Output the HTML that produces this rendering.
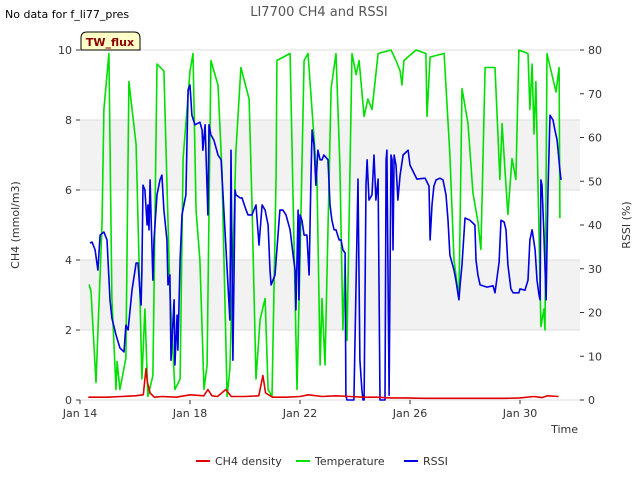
<!DOCTYPE html>
<html><head><meta charset="utf-8">
<style>
body{margin:0;background:#fff;font-family:"DejaVu Sans","Liberation Sans",sans-serif;}
svg text{font-family:"DejaVu Sans","Liberation Sans",sans-serif;}
</style></head>
<body>
<svg id="chart" width="640" height="480" viewBox="0 0 640 480">
<rect width="640" height="480" fill="#fff"/>
<g id="bands"></g><g id="axes"></g><g id="series"></g>
<text x="5" y="18" font-size="11" fill="#000">No data for f_li77_pres</text>
<text x="319" y="16" font-size="13" fill="#555" text-anchor="middle">LI7700 CH4 and RSSI</text>
<g>
<path d="M81,50 L81,38 Q81,32 87,32 L134,32 Q140,32 140,38 L140,50 Z" fill="#ffffc8" stroke="#000" stroke-width="1"/>
<text x="110" y="46" font-size="11" font-weight="bold" fill="#8b0000" text-anchor="middle">TW_flux</text>
</g>
<text x="19" y="225" font-size="11" fill="#333" text-anchor="middle" transform="rotate(-90 19 225)">CH4 (mmol/m3)</text>
<text x="630" y="225" font-size="11" fill="#333" text-anchor="middle" transform="rotate(-90 630 225)">RSSI (%)</text>
<text x="578" y="433" font-size="11" fill="#333" text-anchor="end">Time</text>
<g font-size="11" fill="#333">
<g><line x1="196" y1="461" x2="210" y2="461" stroke="#e00000" stroke-width="2"/><text x="215" y="465">CH4 density</text></g>
<g><line x1="296" y1="461" x2="310" y2="461" stroke="#00e000" stroke-width="2"/><text x="315" y="465">Temperature</text></g>
<g><line x1="404" y1="461" x2="418" y2="461" stroke="#0000e0" stroke-width="2"/><text x="423" y="465">RSSI</text></g>
</g>
</svg>
<script>
const xTickDays=[0,4,8,12,16];
const xTickLabels=["Jan 14","Jan 18","Jan 22","Jan 26","Jan 30"];
const yLeftTicks=[0,2,4,6,8,10];
const yRightTicks=[0,10,20,30,40,50,60,70,80];
const tempDays=[0.33,0.40,0.58,0.80,0.87,1.05,1.16,1.31,1.35,1.45,1.67,1.78,2.04,2.18,2.25,2.36,2.47,2.65,2.80,3.05,3.27,3.45,3.64,3.75,4.00,4.11,4.22,4.36,4.51,4.62,4.76,5.02,5.16,5.35,5.45,5.67,5.85,6.15,6.25,6.40,6.55,6.73,6.84,6.98,7.13,7.16,7.64,7.89,8.00,8.15,8.29,8.62,8.73,8.80,8.91,9.13,9.31,9.45,9.56,9.64,9.71,9.89,10.04,10.15,10.33,10.47,10.62,10.73,10.84,11.31,11.49,11.64,11.71,11.78,12.22,12.58,12.62,12.73,13.24,13.45,13.60,13.78,13.82,13.89,14.11,14.29,14.47,14.58,14.73,15.09,15.27,15.35,15.45,15.56,15.71,15.85,15.96,16.29,16.36,16.44,16.51,16.58,16.76,16.87,16.91,16.98,17.31,17.42,17.45];
const tempVals=[3.3,3.1,0.5,5.0,8.3,9.9,2.9,0.3,1.1,0.3,1.2,9.1,7.3,3.0,0.6,2.6,0.1,0.7,9.6,9.4,3.1,0.3,0.6,6.9,9.4,9.9,5.4,4.0,0.3,1.0,9.7,9.0,6.6,0.1,0.9,7.1,9.5,8.6,5.7,0.6,2.3,2.9,0.3,0.1,6.4,9.7,9.9,0.3,4.0,9.7,9.9,6.3,1.0,2.9,1.0,8.9,9.9,6.7,2.0,3.9,1.7,9.9,9.3,9.7,8.1,8.6,8.3,9.1,9.9,10.0,9.7,9.4,9.0,9.7,10.0,9.9,8.1,9.8,9.9,7.0,4.0,2.9,5.1,8.9,7.9,5.9,5.1,4.3,9.5,9.5,6.3,7.9,6.6,5.3,6.9,6.3,10.0,9.9,8.3,9.6,7.6,9.1,2.1,2.6,2.0,9.9,8.8,9.5,5.2];
const rssiDays=[0.36,0.44,0.55,0.65,0.73,0.87,0.98,1.09,1.16,1.31,1.45,1.60,1.67,1.75,1.89,2.04,2.11,2.18,2.22,2.25,2.29,2.36,2.44,2.47,2.51,2.55,2.58,2.65,2.69,2.80,2.91,2.98,3.05,3.16,3.20,3.27,3.31,3.42,3.45,3.53,3.56,3.64,3.71,3.85,3.93,4.00,4.07,4.18,4.36,4.44,4.47,4.55,4.65,4.69,4.76,4.87,5.02,5.13,5.45,5.49,5.56,5.64,5.67,5.82,5.89,6.04,6.11,6.25,6.40,6.51,6.62,6.73,6.84,6.91,6.95,7.09,7.27,7.38,7.49,7.64,7.75,7.82,7.85,7.89,7.93,7.96,8.00,8.07,8.15,8.25,8.33,8.40,8.44,8.51,8.58,8.65,8.73,8.80,8.87,9.02,9.09,9.16,9.24,9.31,9.42,9.49,9.56,9.64,9.67,9.71,9.85,9.96,10.11,10.18,10.25,10.29,10.33,10.40,10.44,10.51,10.62,10.69,10.76,10.84,10.91,10.98,11.09,11.13,11.16,11.24,11.31,11.35,11.38,11.42,11.49,11.56,11.64,11.75,11.93,12.00,12.25,12.55,12.69,12.73,12.80,12.87,12.95,13.09,13.20,13.31,13.38,13.45,13.60,13.67,13.78,13.82,13.89,14.00,14.18,14.36,14.40,14.47,14.55,14.80,15.02,15.09,15.24,15.31,15.42,15.49,15.56,15.67,15.75,15.96,16.00,16.18,16.29,16.36,16.44,16.55,16.62,16.69,16.73,16.76,16.80,16.87,16.95,17.02,17.09,17.20,17.27,17.35,17.45,17.49];
const rssiVals=[35.9,36.1,34.3,29.7,37.7,38.4,36.6,22.9,18.7,14.9,11.9,11.0,17.1,16.0,25.1,31.3,31.3,25.1,21.7,29.7,49.1,48.0,40.0,44.6,38.9,50.3,43.4,27.4,36.6,46.9,50.3,51.4,43.4,36.6,26.3,28.6,9.1,22.9,8.0,19.4,11.4,32.0,42.3,46.9,70.9,72.0,65.1,62.9,63.5,61.7,57.1,62.9,42.3,62.9,60.6,59.4,56.0,54.9,18.3,57.1,9.1,48.0,46.9,46.2,46.2,43.4,42.3,42.3,44.6,35.4,44.6,43.4,40.0,29.7,26.3,28.6,43.4,43.4,42.3,38.9,33.1,29.7,20.6,32.0,43.4,22.9,42.3,41.1,37.7,37.7,28.6,51.4,61.7,58.3,49.1,57.1,54.9,54.9,56.0,54.9,44.6,41.1,38.9,38.9,36.6,36.6,34.3,33.6,1.1,0,0,0,50.5,9.1,2.3,0,0,49.1,54.9,45.7,46.9,56.0,45.7,50.5,0,0,0,54.9,57.1,1.1,56.0,54.9,34.3,56.0,53.7,45.7,51.4,56.0,57.1,53.7,50.5,50.7,48.9,36.6,44.6,48.9,50.3,50.7,50.3,46.9,41.1,33.1,29.7,27.4,22.9,26.3,30.9,41.6,41.1,40.0,32.0,28.6,26.3,25.8,26.1,24.5,31.5,41.1,40.7,38.9,30.9,25.4,24.5,24.5,25.4,25.1,27.4,36.6,38.9,34.3,27.4,24.0,22.9,50.3,49.1,38.0,22.9,48.0,65.1,64.0,61.7,59.4,52.6,50.3];
const ch4Days=[0.3,1.0,1.5,2.0,2.3,2.4,2.45,2.55,2.7,3.0,3.5,4.0,4.5,4.65,4.8,5.0,5.3,5.5,6.0,6.5,6.65,6.75,7.0,7.5,8.0,8.3,8.8,9.3,9.8,10.3,10.8,11.3,11.8,12.5,13.5,14.5,15.5,16.0,16.5,16.8,17.0,17.4];
const ch4Vals=[0.08,0.08,0.1,0.12,0.15,0.9,0.5,0.2,0.08,0.1,0.08,0.15,0.12,0.3,0.12,0.1,0.3,0.1,0.1,0.12,0.7,0.2,0.08,0.08,0.1,0.15,0.1,0.12,0.1,0.08,0.08,0.06,0.06,0.05,0.05,0.05,0.05,0.06,0.1,0.07,0.12,0.1];

const NS="http://www.w3.org/2000/svg";
const L=80,R=580,T=50,B=400;
const xS=d=>L+d*27.5;
const yL=v=>B-(v/10)*(B-T);
const yR=v=>B-(v/80)*(B-T);
function mk(tag,attrs,parent){const e=document.createElementNS(NS,tag);for(const k in attrs)e.setAttribute(k,attrs[k]);parent.appendChild(e);return e;}
const bands=document.getElementById('bands'),axes=document.getElementById('axes'),series=document.getElementById('series');
mk('rect',{x:L,y:T,width:R-L,height:B-T,fill:'#fff'},bands);
[[2,4],[6,8]].forEach(b=>{const r=mk('rect',{x:L,y:yL(b[1]),width:R-L,height:yL(b[0])-yL(b[1]),fill:'#f2f2f2'},bands);

});
yLeftTicks.forEach(v=>{const g=mk('line',{x1:L,x2:R,y1:yL(v),y2:yL(v),stroke:'#ddd','stroke-width':1},bands);


mk('line',{x1:L-4,x2:L,y1:yL(v),y2:yL(v),stroke:'#333'},axes);
const t=mk('text',{x:L-8,y:yL(v)+4,'font-size':11,fill:'#333','text-anchor':'end'},axes);t.textContent=v;

});
yRightTicks.forEach(v=>{mk('line',{x1:R,x2:R+4,y1:yR(v),y2:yR(v),stroke:'#333'},axes);
const t=mk('text',{x:R+8,y:yR(v)+4,'font-size':11,fill:'#333'},axes);t.textContent=v;

});
xTickDays.forEach((d,i)=>{mk('line',{x1:xS(d),x2:xS(d),y1:B,y2:B+4,stroke:'#333'},axes);
const t=mk('text',{x:xS(d),y:B+17,'font-size':11,fill:'#333','text-anchor':'middle'},axes);t.textContent=xTickLabels[i];

});
function line(days,vals,ys,color,name){const p=mk('polyline',{points:days.map((d,i)=>xS(d).toFixed(1)+','+ys(vals[i]).toFixed(1)).join(' '),fill:'none',stroke:color,'stroke-width':1.6,'stroke-linejoin':'round'},series);

}
line(tempDays,tempVals,yL,'#00e000','temperature-line');
line(rssiDays,rssiVals,yR,'#0000e0','rssi-line');
line(ch4Days,ch4Vals,yL,'#e00000','ch4-density-line');
</script>
</body></html>
